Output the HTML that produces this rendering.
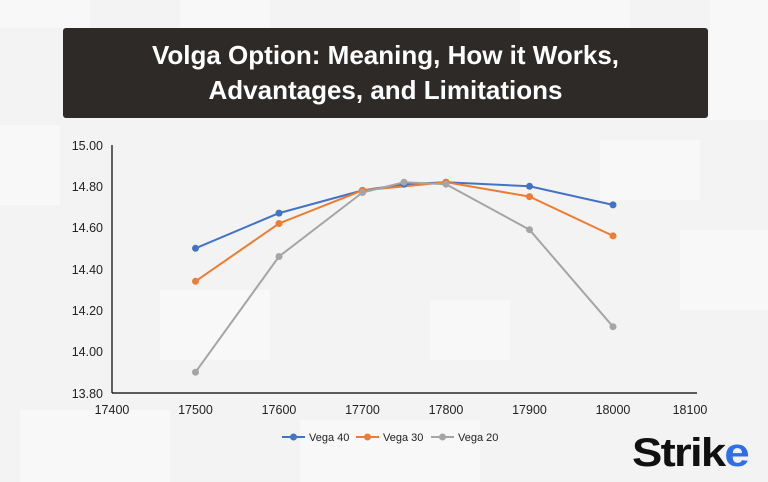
<!DOCTYPE html>
<html><head><style>
body{margin:0;width:768px;height:482px;overflow:hidden;background:#f3f3f4;font-family:"Liberation Sans",sans-serif;}
</style></head><body>
<svg width="768" height="482" xmlns="http://www.w3.org/2000/svg" style="position:absolute;left:0;top:0">
<rect width="768" height="482" fill="#f3f3f4"/>
<g fill="#f8f8f8">
<rect x="0" y="0" width="90" height="28"/><rect x="180" y="0" width="90" height="28"/><rect x="520" y="0" width="110" height="28"/>
<rect x="710" y="0" width="58" height="120"/><rect x="0" y="125" width="60" height="80"/><rect x="160" y="290" width="110" height="70"/>
<rect x="430" y="300" width="80" height="60"/><rect x="680" y="230" width="88" height="80"/><rect x="20" y="410" width="150" height="72"/>
<rect x="300" y="420" width="180" height="62"/><rect x="600" y="140" width="100" height="60"/>
</g>
<rect x="63" y="28" width="645" height="90" rx="3" fill="#2e2a27"/>
<text x="385.5" y="64" text-anchor="middle" fill="#fff" font-size="26" font-weight="bold">Volga Option: Meaning, How it Works,</text>
<text x="385.5" y="99" text-anchor="middle" fill="#fff" font-size="26" font-weight="bold">Advantages, and Limitations</text>
<g stroke="#000" stroke-width="1.2">
<line x1="112" y1="145" x2="112" y2="393"/><line x1="112" y1="393" x2="697" y2="393"/>
</g>
<g font-size="12.5" fill="#222" text-anchor="end">
<text x="103" y="150">15.00</text><text x="103" y="191">14.80</text><text x="103" y="232">14.60</text>
<text x="103" y="274">14.40</text><text x="103" y="315">14.20</text><text x="103" y="356">14.00</text><text x="103" y="398">13.80</text>
</g>
<g font-size="12.5" fill="#222" text-anchor="middle">
<text x="112" y="414">17400</text><text x="195.5" y="414">17500</text><text x="279" y="414">17600</text><text x="362.5" y="414">17700</text>
<text x="446" y="414">17800</text><text x="529.5" y="414">17900</text><text x="613" y="414">18000</text><text x="690" y="414">18100</text>
</g>
<g fill="none" stroke-width="2">
<polyline stroke="#4472c4" points="195.5,248.3 279,213.1 362.5,190.4 404,184.2 446,182.2 529.5,186.3 613,204.9"/>
<polyline stroke="#ed7d31" points="195.5,281.3 279,223.5 362.5,190.4 446,182.2 529.5,196.6 613,235.9"/>
<polyline stroke="#a5a5a5" points="195.5,372.2 279,256.5 362.5,192.5 404,182.2 446,184.2 529.5,229.7 613,326.7"/>
</g>
<g fill="#4472c4"><circle cx="195.5" cy="248.3" r="3.5"/><circle cx="279" cy="213.1" r="3.5"/><circle cx="362.5" cy="190.4" r="3.5"/><circle cx="404" cy="184.2" r="3.5"/><circle cx="446" cy="182.2" r="3.5"/><circle cx="529.5" cy="186.3" r="3.5"/><circle cx="613" cy="204.9" r="3.5"/></g>
<g fill="#ed7d31"><circle cx="195.5" cy="281.3" r="3.5"/><circle cx="279" cy="223.5" r="3.5"/><circle cx="362.5" cy="190.4" r="3.5"/><circle cx="446" cy="182.2" r="3.5"/><circle cx="529.5" cy="196.6" r="3.5"/><circle cx="613" cy="235.9" r="3.5"/></g>
<g fill="#a5a5a5"><circle cx="195.5" cy="372.2" r="3.5"/><circle cx="279" cy="256.5" r="3.5"/><circle cx="362.5" cy="192.5" r="3.5"/><circle cx="404" cy="182.2" r="3.5"/><circle cx="446" cy="184.2" r="3.5"/><circle cx="529.5" cy="229.7" r="3.5"/><circle cx="613" cy="326.7" r="3.5"/></g>
<g font-size="11" fill="#222" stroke-width="2">
<line x1="282" y1="437" x2="305" y2="437" stroke="#4472c4"/><circle cx="293.5" cy="437" r="3.5" fill="#4472c4"/><text x="309" y="441">Vega 40</text>
<line x1="356" y1="437" x2="379" y2="437" stroke="#ed7d31"/><circle cx="367.5" cy="437" r="3.5" fill="#ed7d31"/><text x="383" y="441">Vega 30</text>
<line x1="431" y1="437" x2="454" y2="437" stroke="#a5a5a5"/><circle cx="442.5" cy="437" r="3.5" fill="#a5a5a5"/><text x="458" y="441">Vega 20</text>
</g>
<text x="632" y="466" font-size="40" font-weight="bold" fill="#111" letter-spacing="-1.5" textLength="116" lengthAdjust="spacingAndGlyphs">Strik<tspan fill="#2f6fe8">e</tspan></text>
</svg>
</body></html>
